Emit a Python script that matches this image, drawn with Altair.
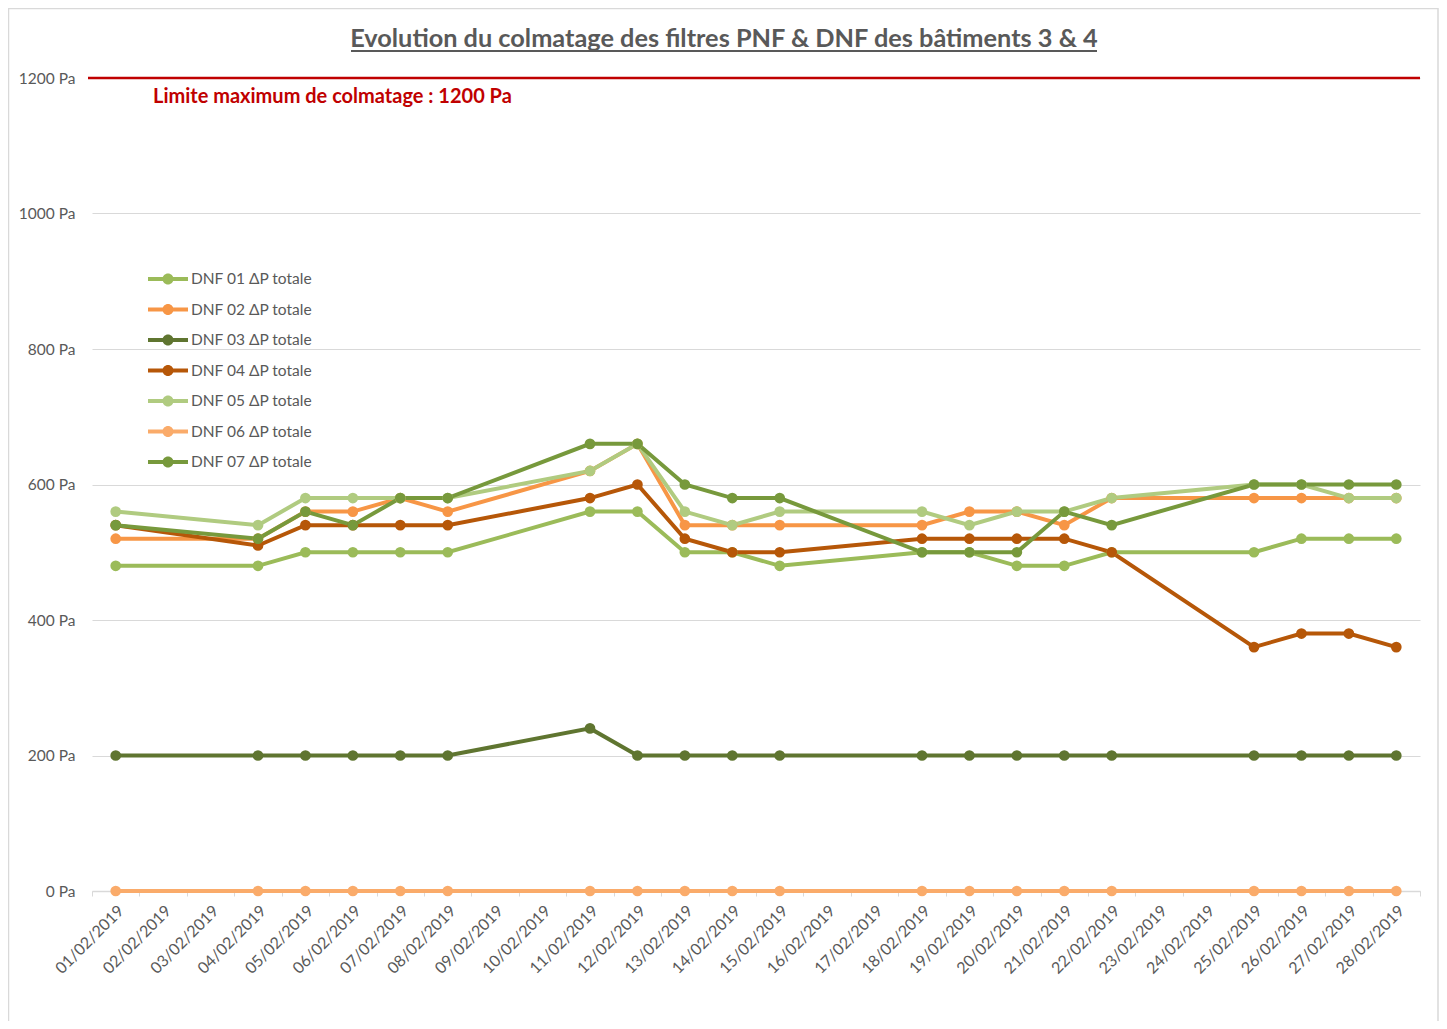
import altair as alt
import pandas as pd

all_dates = ["01/02/2019", "02/02/2019", "03/02/2019", "04/02/2019", "05/02/2019", "06/02/2019",
             "07/02/2019", "08/02/2019", "09/02/2019", "10/02/2019", "11/02/2019", "12/02/2019",
             "13/02/2019", "14/02/2019", "15/02/2019", "16/02/2019", "17/02/2019", "18/02/2019",
             "19/02/2019", "20/02/2019", "21/02/2019", "22/02/2019", "23/02/2019", "24/02/2019",
             "25/02/2019", "26/02/2019", "27/02/2019", "28/02/2019"]

measure_dates = ["01/02/2019", "04/02/2019", "05/02/2019", "06/02/2019", "07/02/2019", "08/02/2019",
                 "11/02/2019", "12/02/2019", "13/02/2019", "14/02/2019", "15/02/2019", "18/02/2019",
                 "19/02/2019", "20/02/2019", "21/02/2019", "22/02/2019", "25/02/2019", "26/02/2019",
                 "27/02/2019", "28/02/2019"]

series_names = ["DNF 01 ΔP totale", "DNF 02 ΔP totale", "DNF 03 ΔP totale", "DNF 04 ΔP totale",
                "DNF 05 ΔP totale", "DNF 06 ΔP totale", "DNF 07 ΔP totale"]

dnf01 = [480, 480, 500, 500, 500, 500, 560, 560, 500, 500, 480, 500, 500, 480, 480, 500, 500, 520, 520, 520]
dnf02 = [520, 520, 560, 560, 580, 560, 620, 660, 540, 540, 540, 540, 560, 560, 540, 580, 580, 580, 580, 580]
dnf03 = [200, 200, 200, 200, 200, 200, 240, 200, 200, 200, 200, 200, 200, 200, 200, 200, 200, 200, 200, 200]
dnf04 = [540, 510, 540, 540, 540, 540, 580, 600, 520, 500, 500, 520, 520, 520, 520, 500, 360, 380, 380, 360]
dnf05 = [560, 540, 580, 580, 580, 580, 620, 660, 560, 540, 560, 560, 540, 560, 560, 580, 600, 600, 580, 580]
dnf06 = [0, 0, 0, 0, 0, 0, 0, 0, 0, 0, 0, 0, 0, 0, 0, 0, 0, 0, 0, 0]
dnf07 = [540, 520, 560, 540, 580, 580, 660, 660, 600, 580, 580, 500, 500, 500, 560, 540, 600, 600, 600, 600]

series_colors = ["#9BBB59", "#F79646", "#5F7530", "#B65708", "#B0CB80", "#FAAB6A", "#77993C"]

limit_value = [1200]
limit_text = ["Limite maximum de colmatage : 1200 Pa"]
title_text = ["Evolution du colmatage des filtres PNF & DNF des bâtiments 3 & 4"]
y_ticks = [0, 200, 400, 600, 800, 1000, 1200]

rows = []
for name, vals in zip(series_names, [dnf01, dnf02, dnf03, dnf04, dnf05, dnf06, dnf07]):
    for d, v in zip(measure_dates, vals):
        rows.append({"date": d, "value": v, "serie": name})
df = pd.DataFrame(rows)
limit_df = pd.DataFrame({"limit": limit_value, "label": limit_text, "title": title_text})

W, H = 1328, 813
FONT = "Lato, 'Open Sans', sans-serif"
GRAY = "#595959"

x_enc = alt.X(
    "date:O",
    sort=all_dates,
    bandPosition=0.5,
    scale=alt.Scale(type="band", domain=all_dates, paddingInner=0, paddingOuter=0),
    axis=alt.Axis(
        title=None, labelAngle=-45, labelAlign="right", labelBaseline="middle",
        labelFontSize=16, labelColor=GRAY, labelFont=FONT, labelPadding=12, labelOffset=5,
        tickBand="extent", tickColor="#D9D9D9", tickSize=5, domainColor="#D9D9D9",
        domainWidth=1.5, grid=False, labelOverlap=False,
    ),
)
y_enc = alt.Y(
    "value:Q",
    scale=alt.Scale(domain=[0, 1200], nice=False),
    axis=alt.Axis(
        title=None, values=y_ticks, labelExpr="datum.value + ' Pa'", labelFontSize=15.5,
        labelColor=GRAY, labelFont=FONT, ticks=False, domain=False, gridColor="#D9D9D9",
        gridWidth=1, labelPadding=17,
    ),
)

legend_path = ("M-2,-0.2L2,-0.2L2,0.2L-2,0.2Z"
               "M-0.55,0A0.55,0.55,0,1,1,0.55,0A0.55,0.55,0,1,1,-0.55,0Z")

scale_c = alt.Scale(domain=series_names, range=series_colors)

color_pts = alt.Color(
    "serie:N",
    sort=series_names,
    scale=scale_c,
    legend=alt.Legend(
        title=None, orient="none", legendX=66, legendY=191, direction="vertical",
        symbolType=legend_path, symbolSize=400, symbolStrokeWidth=0,
        labelFontSize=15.5, labelColor=GRAY, labelFont=FONT, labelOffset=13,
        rowPadding=11.5, padding=0, symbolOpacity=1,
    ),
)
color_lines = alt.Color("serie:N", sort=series_names, scale=scale_c, legend=None)

lines = alt.Chart(df).mark_line(strokeWidth=4).encode(x=x_enc, y=y_enc, color=color_lines)
points = alt.Chart(df).mark_point(filled=True, size=115, opacity=1, strokeWidth=0).encode(
    x=x_enc, y=y_enc, color=color_pts)

limit_rule = alt.Chart(limit_df).mark_rule(color="#C00000", strokeWidth=2.5).encode(
    y=alt.Y("limit:Q"), x=alt.value(-4), x2=alt.value(W))
limit_label = alt.Chart(limit_df).mark_text(
    align="left", baseline="middle", fontWeight="bold", fontSize=20, color="#C00000",
    font=FONT, dy=19).encode(x=alt.value(61), y=alt.Y("limit:Q"), text="label:N")
title_mark = alt.Chart(limit_df).mark_text(
    align="center", baseline="alphabetic", fontWeight="bold", fontSize=25.3, color=GRAY,
    font=FONT).encode(x=alt.value(632), y=alt.value(-31), text="title:N")
underline = alt.Chart(limit_df).mark_rule(color=GRAY, strokeWidth=2).encode(
    x=alt.value(259), x2=alt.value(1005), y=alt.value(-27))
border = alt.Chart(limit_df).mark_rect(
    fillOpacity=0, stroke="#D9D9D9", strokeWidth=1.5).encode(
    x=alt.value(-83.5), x2=alt.value(1346), y=alt.value(-69.5), y2=alt.value(H + 300))

chart = alt.layer(border, limit_rule, lines, points, limit_label, title_mark, underline).properties(
    width=W, height=H,
    autosize=alt.AutoSizeParams(type="none"),
    padding={"left": 84, "top": 70, "right": 19, "bottom": 130},
).resolve_legend(color="independent").configure(background="white").configure_view(stroke=None)

chart.save("out.html", embed_options={"renderer": "svg", "actions": False})
